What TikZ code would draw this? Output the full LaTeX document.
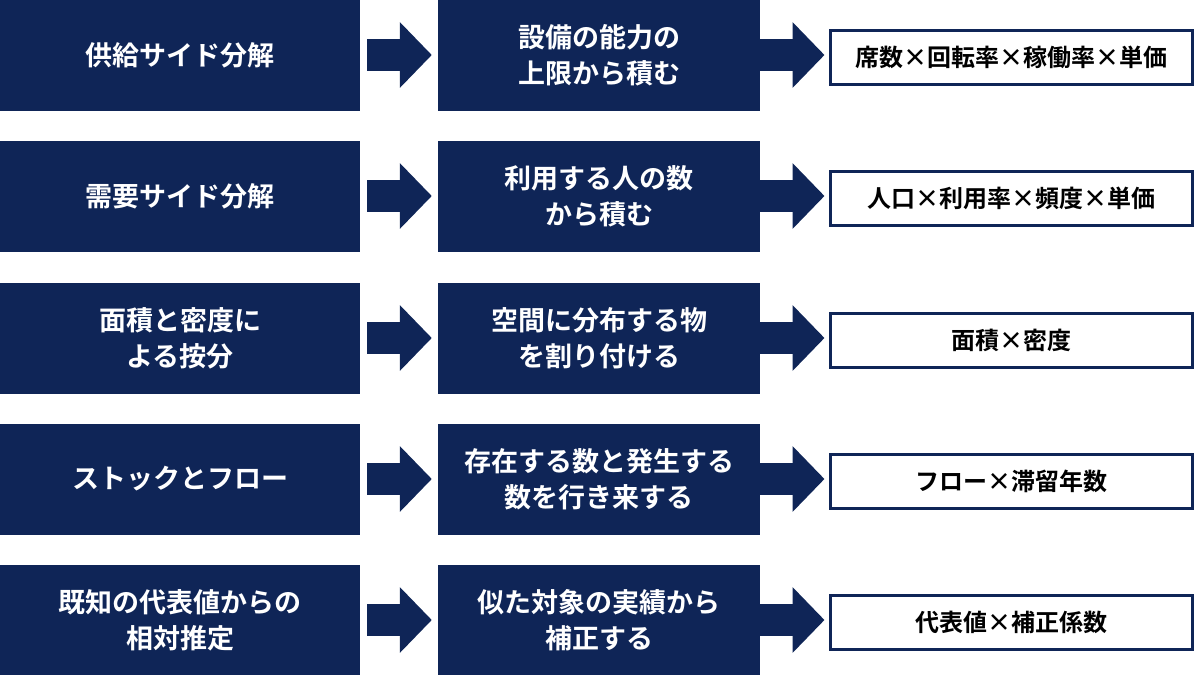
\documentclass[tikz,border=0pt]{standalone}
\usepackage{fontspec}
\setmainfont{Noto Sans CJK JP}[BoldFont={* Bold}]
\usetikzlibrary{arrows.meta}
\definecolor{navy}{HTML}{0F2557}
\begin{document}
\begin{tikzpicture}[x=1pt,y=-1pt,
 dark/.style={fill=navy,text=white,font=\bfseries\fontsize{27}{36}\selectfont,align=center,inner sep=0,minimum height=111pt},
 lbox/.style={dark,minimum width=360pt},
 mbox/.style={dark,minimum width=322pt},
 rbox/.style={draw=navy,line width=3pt,fill=white,text=black,font=\bfseries\fontsize{24}{30}\selectfont,inner sep=0,minimum width=362pt,minimum height=54pt},
 arr/.style={draw=navy,line width=32pt,-{Triangle[width=64pt,length=32pt]}}]
\useasboundingbox (0,0) rectangle (1200,675);
\foreach \i/\y/\a/\b/\c in {
 1/55/供給サイド分解/設備の能力の\\上限から積む/席数×回転率×稼働率×単価,
 2/196/需要サイド分解/利用する人の数\\から積む/人口×利用率×頻度×単価,
 3/338/面積と密度に\\よる按分/空間に分布する物\\を割り付ける/面積×密度,
 4/479/ストックとフロー/存在する数と発生する\\数を行き来する/フロー×滞留年数,
 5/620/既知の代表値からの\\相対推定/似た対象の実績から\\補正する/代表値×補正係数}{
 \node[lbox] (l\i) at (180,\y) {\a};
 \node[mbox] (m\i) at (599,\y) {\b};
 \node[rbox] (r\i) at (1011,\y+2) {\c};
 \draw[arr,shorten <=7pt,shorten >=6pt] (l\i.east) -- (m\i.west);
 \draw[arr,shorten >=4pt] (m\i.east) -- (m\i.east-|r\i.west);
}
\end{tikzpicture}
\end{document}
